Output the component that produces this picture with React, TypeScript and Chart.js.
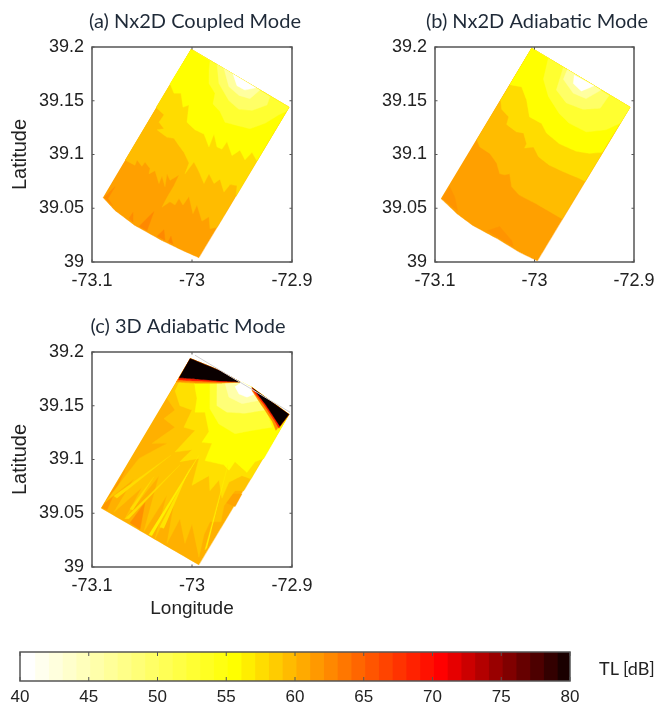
import React, { useEffect, useRef } from "react";
import { Chart, registerables } from "chart.js";

Chart.register(...registerables);

type P = [number, number];

const lonTicks = [-73.1, -73, -72.9];
const latTicks = [39, 39.05, 39.1, 39.15, 39.2];
const tlTicks = [40, 45, 50, 55, 60, 65, 70, 75, 80];

// colour bar: one colour per dB from 40 to 79
const tlColors = [
  "#ffffff", "#ffffee", "#ffffdd", "#ffffcc", "#ffffbb", "#ffffaa", "#ffff99", "#ffff88", "#ffff77", "#ffff66",
  "#ffff55", "#ffff44", "#ffff33", "#ffff22", "#ffff11", "#ffff00", "#ffee00", "#ffdd00", "#ffcc00", "#ffbb00",
  "#ffaa00", "#ff9900", "#ff8800", "#ff7700", "#ff6600", "#ff5500", "#ff4400", "#ff3300", "#ff2200", "#ff1100",
  "#ff0000", "#e60000", "#cc0000", "#b30000", "#990000", "#800000", "#660000", "#4d0000", "#330000", "#1a0000",
];

// Panel (a) Nx2D Coupled Mode
const aTop: P[] = [[-72.903, 39.144], [-73.001, 39.198]];
const aOutline: P[] = [[-73.001, 39.198], [-72.903, 39.144], [-72.993, 39.004], [-73.01, 39.011], [-73.03, 39.02], [-73.057, 39.034], [-73.077, 39.048], [-73.089, 39.06]];
const aW1: P[] = [[-73.088, 39.06], [-73.077, 39.07], [-73.084, 39.059], [-73.079, 39.052]];
const aW2: P[] = [[-73.063, 39.0405], [-73.059, 39.046], [-73.059, 39.037]];
const aW3: P[] = [[-73.053, 39.033], [-73.038, 39.047], [-73.045, 39.029]];
const aW4: P[] = [[-73.035, 39.024], [-73.028, 39.03], [-73.027, 39.02]];
const aW5: P[] = [[-73.024, 39.0185], [-73.021, 39.024], [-73.019, 39.0165]];
const aC1: P[] = [[-73.067, 39.095], [-73.057, 39.09], [-73.055, 39.095], [-73.05, 39.089], [-73.047, 39.093], [-73.042, 39.087], [-73.043, 39.082], [-73.037, 39.085], [-73.033, 39.073], [-73.03, 39.08], [-73.027, 39.07], [-73.025, 39.082], [-73.022, 39.076], [-73.013, 39.081], [-73.018, 39.071], [-73.025, 39.06], [-73.03, 39.051], [-73.022, 39.056], [-73.017, 39.053], [-73.013, 39.059], [-73.009, 39.053], [-73.003, 39.061], [-72.999, 39.045], [-72.995, 39.053], [-72.99, 39.038], [-72.983, 39.042], [-72.982, 39.031], [-72.975, 39.032]];
const aC2: P[] = [[-73.036, 39.144], [-73.028, 39.137], [-73.033, 39.13], [-73.028, 39.124], [-73.035, 39.123], [-73.025, 39.116], [-73.018, 39.115], [-73.012, 39.107], [-73.008, 39.102], [-73.003, 39.092], [-73.007, 39.082], [-72.998, 39.093], [-72.993, 39.084], [-72.988, 39.073], [-72.983, 39.082], [-72.978, 39.073], [-72.972, 39.077], [-72.968, 39.065], [-72.962, 39.072], [-72.955, 39.071], [-72.956, 39.061]];
const aC3: P[] = [[-73.022, 39.166], [-73.018, 39.157], [-73.011, 39.157], [-73.009, 39.144], [-73.003, 39.146], [-73.005, 39.13], [-72.997, 39.123], [-72.988, 39.119], [-72.983, 39.107], [-72.978, 39.119], [-72.975, 39.107], [-72.97, 39.105], [-72.965, 39.112], [-72.96, 39.099], [-72.952, 39.104], [-72.947, 39.095], [-72.94, 39.102], [-72.935, 39.094]];
const aC4: P[] = [[-72.982, 39.187], [-72.983, 39.178], [-72.983, 39.166], [-72.977, 39.157], [-72.979, 39.147], [-72.972, 39.14], [-72.967, 39.13], [-72.955, 39.127], [-72.942, 39.124], [-72.927, 39.129], [-72.913, 39.137], [-72.906, 39.14]];
const aC5: P[] = [[-72.975, 39.184], [-72.973, 39.166], [-72.963, 39.15], [-72.953, 39.142], [-72.94, 39.141], [-72.925, 39.146], [-72.922, 39.154]];
const aC6: P[] = [[-72.968, 39.18], [-72.963, 39.163], [-72.953, 39.155], [-72.942, 39.152], [-72.932, 39.16]];
const aC7: P[] = [[-72.959, 39.175], [-72.955, 39.164], [-72.947, 39.16], [-72.936, 39.162]];

// Panel (b) Nx2D Adiabatic Mode
const bTop: P[] = [[-72.904, 39.144], [-73.003, 39.199]];
const bOutline: P[] = [[-73.003, 39.199], [-72.904, 39.144], [-72.997, 39.001], [-73.015, 39.009], [-73.038, 39.022], [-73.062, 39.034], [-73.078, 39.045], [-73.094, 39.059]];
const bW1: P[] = [[-73.093, 39.059], [-73.085, 39.07], [-73.08, 39.06], [-73.077, 39.047]];
const bW2: P[] = [[-73.048, 39.029], [-73.035, 39.033], [-73.023, 39.02], [-73.021, 39.014]];
const bC1: P[] = [[-73.058, 39.114], [-73.055, 39.107], [-73.045, 39.101], [-73.038, 39.092], [-73.035, 39.082], [-73.03, 39.081], [-73.025, 39.082], [-73.023, 39.07], [-73.015, 39.062], [-72.998, 39.054], [-72.985, 39.047], [-72.972, 39.04]];
const bC2: P[] = [[-73.034, 39.151], [-73.033, 39.142], [-73.026, 39.135], [-73.028, 39.128], [-73.018, 39.121], [-73.011, 39.12], [-73.008, 39.11], [-73.01, 39.106], [-73.001, 39.107], [-72.996, 39.098], [-72.985, 39.09], [-72.971, 39.084], [-72.958, 39.079], [-72.949, 39.075]];
const bC3: P[] = [[-73.025, 39.165], [-73.013, 39.163], [-73.008, 39.151], [-73.005, 39.135], [-72.993, 39.129], [-72.988, 39.12], [-72.975, 39.11], [-72.958, 39.103], [-72.945, 39.101], [-72.932, 39.102]];
const bC4: P[] = [[-72.986, 39.19], [-72.991, 39.17], [-72.986, 39.154], [-72.975, 39.138], [-72.965, 39.129], [-72.948, 39.121], [-72.928, 39.123], [-72.914, 39.129]];
const bC5: P[] = [[-72.971, 39.181], [-72.978, 39.16], [-72.968, 39.148], [-72.951, 39.142], [-72.934, 39.143], [-72.925, 39.155]];
const bC6: P[] = [[-72.967, 39.179], [-72.971, 39.17], [-72.961, 39.157], [-72.948, 39.152], [-72.933, 39.16]];
const bC7: P[] = [[-72.96, 39.174], [-72.961, 39.166], [-72.953, 39.159], [-72.94, 39.164]];

// Panel (c) 3D Adiabatic Mode
const cTop: P[] = [[-72.903, 39.142], [-72.94, 39.167], [-72.952, 39.172], [-72.973, 39.183], [-73.002, 39.194]];
const cOutline: P[] = [[-73.002, 39.194], [-72.973, 39.183], [-72.952, 39.172], [-72.94, 39.167], [-72.903, 39.142], [-72.993, 39.002], [-73.091, 39.055]];
const cDark1: P[] = [[-73.09, 39.055], [-73.067, 39.09], [-73.077, 39.07], [-73.085, 39.053]];
const cDark2: P[] = [[-73.062, 39.041], [-73.047, 39.06], [-73.052, 39.035]];
const cDark3: P[] = [[-72.967, 39.06], [-72.96, 39.068], [-72.95, 39.068], [-72.957, 39.056]];
const cMid: P[] = [[-73.025, 39.157], [-73.017, 39.146], [-73.028, 39.138], [-73.017, 39.13], [-73.04, 39.115], [-73.025, 39.115], [-73.053, 39.101], [-73.087, 39.06], [-73.058, 39.082], [-73.078, 39.051], [-73.05, 39.074], [-73.067, 39.045], [-73.033, 39.085], [-73.048, 39.033], [-73.025, 39.067], [-73.037, 39.026], [-73.017, 39.064], [-73.025, 39.022], [-73.012, 39.045], [-73.007, 39.022], [-73, 39.04], [-72.993, 39.009], [-72.988, 39.03], [-72.982, 39.042], [-72.971, 39.042], [-72.968, 39.057], [-72.957, 39.071], [-72.948, 39.071]];
const cUpper: P[] = [[-73.017, 39.164], [-73.012, 39.15], [-73, 39.146], [-73.008, 39.13], [-72.997, 39.127], [-73.017, 39.107], [-73, 39.109], [-73.012, 39.098], [-72.993, 39.101], [-73, 39.076], [-72.983, 39.085], [-72.982, 39.071], [-72.973, 39.081], [-72.97, 39.064], [-72.963, 39.079], [-72.95, 39.085], [-72.941, 39.082]];
const cCore: P[] = [[-72.997, 39.167], [-72.995, 39.157], [-72.997, 39.144], [-72.987, 39.144], [-72.983, 39.126], [-72.99, 39.116], [-72.98, 39.115], [-72.987, 39.099], [-72.968, 39.095], [-72.963, 39.09], [-72.957, 39.098], [-72.945, 39.088], [-72.937, 39.098], [-72.928, 39.101]];
const cRay1: P[] = [[-72.993, 39.104], [-73.043, 39.03], [-73.04, 39.029]];
const cRay2: P[] = [[-72.964, 39.095], [-72.987, 39.016], [-72.985, 39.018]];
const cRay3: P[] = [[-73.021, 39.104], [-73.078, 39.066], [-73.075, 39.064]];
const cRay4: P[] = [[-73.012, 39.095], [-73.067, 39.045], [-73.063, 39.045]];
const cRay5: P[] = [[-73.002, 39.092], [-73.032, 39.037], [-73.028, 39.036]];
const cRay6: P[] = [[-73.038, 39.084], [-73.062, 39.054], [-73.059, 39.053]];
const cPale1: P[] = [[-72.982, 39.171], [-72.982, 39.147], [-72.973, 39.133], [-72.957, 39.124], [-72.94, 39.127], [-72.92, 39.13], [-72.927, 39.15], [-72.938, 39.166], [-72.95, 39.172]];
const cPale2: P[] = [[-72.975, 39.171], [-72.975, 39.15], [-72.965, 39.144], [-72.947, 39.143], [-72.927, 39.146], [-72.937, 39.163], [-72.95, 39.172]];
const cPale3: P[] = [[-72.967, 39.171], [-72.963, 39.158], [-72.95, 39.152], [-72.933, 39.155], [-72.938, 39.164], [-72.95, 39.172]];
const cWhite: P[] = [[-72.957, 39.168], [-72.953, 39.161], [-72.945, 39.158], [-72.937, 39.161], [-72.94, 39.167], [-72.95, 39.172]];
const tlOrange: P[] = [[-73.016, 39.172], [-72.997, 39.171], [-72.97, 39.171], [-72.952, 39.172], [-72.973, 39.183], [-73.002, 39.194]];
const tlRed: P[] = [[-73.014, 39.174], [-72.997, 39.173], [-72.97, 39.172], [-72.952, 39.172], [-72.973, 39.183], [-73.002, 39.194]];
const tlBlack: P[] = [[-73.013, 39.176], [-72.997, 39.175], [-72.97, 39.173], [-72.952, 39.172], [-72.973, 39.183], [-73.002, 39.194]];
const trOrange: P[] = [[-72.94, 39.167], [-72.94, 39.164], [-72.93, 39.15], [-72.92, 39.136], [-72.916, 39.127], [-72.903, 39.142]];
const trRed: P[] = [[-72.94, 39.167], [-72.939, 39.164], [-72.928, 39.151], [-72.918, 39.137], [-72.913, 39.129], [-72.903, 39.142]];
const trBlack: P[] = [[-72.94, 39.167], [-72.937, 39.164], [-72.927, 39.152], [-72.917, 39.138], [-72.912, 39.131], [-72.903, 39.142]];
const cEdgeLine: P[] = [[-72.997, 39.197], [-72.902, 39.144]];

type Layer = [P[], string];

const aLayers: Layer[] = [
  [aOutline, "#ffa000"],
  [aW1, "#ff8c00"], [aW2, "#ff8c00"], [aW3, "#ff8800"], [aW4, "#ff8800"], [aW5, "#ff8800"],
  [[...aC1, ...aTop], "#ffbc00"],
  [[...aC2, ...aTop], "#ffdc00"],
  [[...aC3, ...aTop], "#ffff00"],
  [[...aC4, ...aTop], "#ffff30"],
  [aC5, "#ffff66"],
  [aC6, "#ffffa0"],
  [aC7, "#ffffff"],
];

const bLayers: Layer[] = [
  [bOutline, "#ffa000"],
  [bW1, "#ff9400"], [bW2, "#ff9400"],
  [[...bC1, ...bTop], "#ffbc00"],
  [[...bC2, ...bTop], "#ffdc00"],
  [[...bC3, ...bTop], "#ffff00"],
  [[...bC4, ...bTop], "#ffff30"],
  [bC5, "#ffff66"],
  [bC6, "#ffffa0"],
  [bC7, "#ffffff"],
];

const cLayers: Layer[] = [
  [cOutline, "#ffb000"],
  [cDark1, "#ff9800"], [cDark2, "#ff9000"], [cDark3, "#ffa400"],
  [[...cMid, ...cTop], "#ffc400"],
  [[...cUpper, ...cTop], "#ffe000"],
  [cRay3, "#ffdc00"], [cRay4, "#ffdc00"], [cRay5, "#ffe400"], [cRay6, "#ffdc00"],
  [[...cCore, ...cTop], "#ffff00"],
  [cRay1, "#fff000"], [cRay2, "#fff000"],
  [cPale1, "#ffff33"], [cPale2, "#ffff77"], [cPale3, "#ffffaa"], [cWhite, "#ffffff"],
  [tlOrange, "#ff9000"], [tlRed, "#ff2000"], [tlBlack, "#0a0000"],
  [trOrange, "#ff9000"], [trRed, "#ff2000"], [trBlack, "#0a0000"],
];

const FRAME = "#555555";
const TEXT = "#222222";

const framePlugin = {
  id: "frame",
  afterDraw(chart: any) {
    const { ctx, chartArea: a, scales } = chart;
    const len = chart.config.type === "bar" ? 4 : 2.5;
    ctx.save();
    ctx.strokeStyle = FRAME;
    ctx.lineWidth = 1.5;
    ctx.strokeRect(a.left, a.top, a.right - a.left, a.bottom - a.top);
    ctx.lineWidth = 1;
    ctx.beginPath();
    for (const t of scales.x.ticks) {
      const x = scales.x.getPixelForValue(t.value);
      ctx.moveTo(x, a.bottom); ctx.lineTo(x, a.bottom - len);
      ctx.moveTo(x, a.top); ctx.lineTo(x, a.top + len);
    }
    if (chart.config.type !== "bar") {
      for (const t of scales.y.ticks) {
        const y = scales.y.getPixelForValue(t.value);
        ctx.moveTo(a.left, y); ctx.lineTo(a.left + len, y);
        ctx.moveTo(a.right, y); ctx.lineTo(a.right - len, y);
      }
    }
    ctx.stroke();
    ctx.restore();
  },
};

const tickFont = { family: "'Liberation Sans'", size: 18 };
const titleFont = { family: "Lato", size: 20, weight: "normal" as const };

type PanelProps = {
  title: string; layers: Layer[]; left: number; top: number; width: number; height: number;
  areaLeft: number; areaRight: number; areaTop: number; areaBottom: number;
  titleTopPad: number; showLat: boolean; showLon: boolean; extraLine?: P[];
};

function Panel(p: PanelProps) {
  const ref = useRef<HTMLCanvasElement>(null);
  useEffect(() => {
    const datasets: any[] = p.layers.map(([pts, color], i) => ({
      data: pts.map(([x, y]) => ({ x, y })),
      showLine: true,
      fill: "shape",
      tension: 0.0001,
      backgroundColor: color,
      borderColor: color,
      borderWidth: 0.4,
      pointRadius: 0,
      order: -i,
    }));
    if (p.extraLine) {
      datasets.push({
        data: p.extraLine.map(([x, y]) => ({ x, y })),
        showLine: true, fill: false, borderColor: "#d0d0d0", borderWidth: 1, pointRadius: 0, order: -1000,
      });
    }
    const chart = new Chart(ref.current!, {
      type: "scatter",
      data: { datasets },
      plugins: [framePlugin],
      options: {
        animation: false, responsive: false, events: [],
        layout: { padding: 0 },
        plugins: {
          legend: { display: false },
          tooltip: { enabled: false },
          title: {
            display: true, text: p.title, color: "#1f2a38", font: titleFont, fullSize: true, align: "center",
            padding: { top: p.titleTopPad, bottom: p.areaTop - p.titleTopPad - 24 },
          },
        },
        scales: {
          x: {
            type: "linear", min: -73.1, max: -72.9,
            grid: { display: false, drawTicks: false }, border: { display: false },
            afterBuildTicks: (s: any) => { s.ticks = lonTicks.map((value) => ({ value })); },
            ticks: { color: TEXT, font: tickFont, padding: 8, maxRotation: 0, autoSkip: false, callback: (v: any) => String(v) },
            title: { display: p.showLon, text: "Longitude", color: TEXT, font: { family: "'Liberation Sans'", size: 19 }, padding: 0 },
            afterFit: (s: any) => { s.height = p.height - p.areaBottom; },
          },
          y: {
            type: "linear", min: 39, max: 39.2,
            grid: { display: false, drawTicks: false }, border: { display: false },
            afterBuildTicks: (s: any) => { s.ticks = latTicks.map((value) => ({ value })); },
            ticks: { color: TEXT, font: tickFont, padding: 8, autoSkip: false, callback: (v: any) => String(v) },
            title: { display: p.showLat, text: "Latitude", color: TEXT, font: { family: "'Liberation Sans'", size: 20 }, padding: { top: 8, bottom: 0 } },
            afterFit: (s: any) => { s.width = p.areaLeft; },
          },
          y2: {
            type: "linear", position: "right", min: 39, max: 39.2,
            grid: { display: false, drawTicks: false }, border: { display: false },
            ticks: { display: false },
            afterFit: (s: any) => { s.width = p.width - p.areaRight; },
          },
        },
      },
    } as any);
    return () => chart.destroy();
  }, []);
  return (
    <canvas
      ref={ref}
      width={p.width}
      height={p.height}
      style={{ position: "absolute", left: p.left, top: p.top, width: p.width, height: p.height, display: "block", filter: "blur(0.45px)" }}
    />
  );
}

function ColorBar() {
  const ref = useRef<HTMLCanvasElement>(null);
  useEffect(() => {
    const chart = new Chart(ref.current!, {
      type: "bar",
      data: {
        labels: ["TL"],
        datasets: tlColors.map((color, i) => ({
          data: [[40 + i, 41 + i + (i < tlColors.length - 1 ? 0.08 : 0)]],
          backgroundColor: color,
          borderWidth: 0,
          barPercentage: 1,
          categoryPercentage: 1,
          grouped: false,
        })),
      },
      plugins: [framePlugin],
      options: {
        indexAxis: "y", animation: false, responsive: false, events: [],
        layout: { padding: { left: 20, right: 93, top: 12, bottom: 0 } },
        plugins: { legend: { display: false }, tooltip: { enabled: false } },
        scales: {
          x: {
            type: "linear", min: 40, max: 80,
            grid: { display: false, drawTicks: false }, border: { display: false },
            afterBuildTicks: (s: any) => { s.ticks = tlTicks.map((value) => ({ value })); },
            ticks: { color: TEXT, font: { family: "'Liberation Sans'", size: 17 }, padding: 6, maxRotation: 0, autoSkip: false },
            afterFit: (s: any) => { s.height = 22; },
          },
          y: { type: "category", display: false },
        },
      },
    } as any);
    return () => chart.destroy();
  }, []);
  return (
    <canvas
      ref={ref}
      width={663}
      height={63}
      style={{ position: "absolute", left: 0, top: 640, width: 663, height: 63, display: "block", filter: "blur(0.45px)" }}
    />
  );
}

export default function App() {
  return (
    <div style={{ position: "absolute", left: 0, top: 0, width: 663, height: 703, overflow: "hidden", background: "#fff" }}>
      <Panel title="(a) Nx2D Coupled Mode" layers={aLayers} left={0} top={0} width={390} height={300}
        areaLeft={92} areaRight={292} areaTop={47} areaBottom={262} titleTopPad={10} showLat showLon={false} />
      <Panel title="(b) Nx2D Adiabatic Mode" layers={bLayers} left={380} top={0} width={314} height={300}
        areaLeft={55} areaRight={254} areaTop={47} areaBottom={262} titleTopPad={10} showLat={false} showLon={false} />
      <Panel title="(c) 3D Adiabatic Mode" layers={cLayers} left={0} top={310} width={376} height={310}
        areaLeft={92} areaRight={292} areaTop={42} areaBottom={257} titleTopPad={5} showLat showLon extraLine={cEdgeLine} />
      <ColorBar />
      <div style={{ position: "absolute", left: 599, top: 656, fontFamily: "Lato", fontSize: 18, lineHeight: "24px", color: TEXT, filter: "blur(0.3px)" }}>TL [dB]</div>
    </div>
  );
}
